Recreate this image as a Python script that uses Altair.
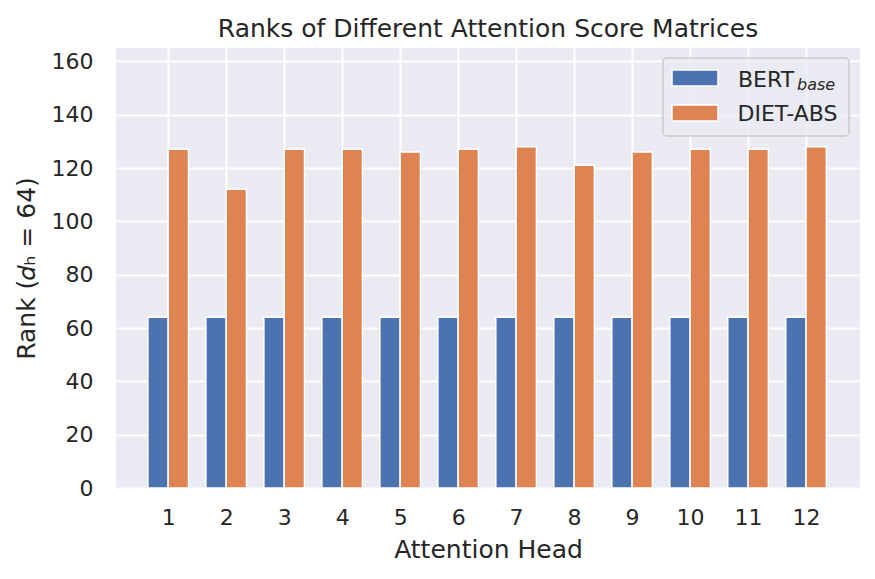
import altair as alt
import pandas as pd

heads = list(range(1, 13))
bert_ranks = [64, 64, 64, 64, 64, 64, 64, 64, 64, 64, 64, 64]
diet_ranks = [127, 112, 127, 127, 126, 127, 128, 121, 126, 127, 127, 128]
series_names = ["BERT_base", "DIET-ABS"]
colors = ["#4C72B0", "#DD8452"]
chart_title = "Ranks of Different Attention Score Matrices"
bar_w = 0.35

rows = []
for h, b, d in zip(heads, bert_ranks, diet_ranks):
    rows.append({"head": h, "x0": h - bar_w, "x1": h, "rank": b, "series": series_names[0]})
    rows.append({"head": h, "x0": h, "x1": h + bar_w, "rank": d, "series": series_names[1]})
df = pd.DataFrame(rows)

FONT = "DejaVu Sans"
TXT = "#262626"

bars = alt.Chart(df).mark_rect(stroke="white", strokeWidth=1.5).encode(
    x=alt.X("x0:Q", scale=alt.Scale(domain=[0.1, 12.93], nice=False, zero=False),
            axis=alt.Axis(values=heads, format="d", title="Attention Head", grid=True,
                          titleX=372, titleY=69.5, titleBaseline="alphabetic",
                          labelPadding=19)),
    x2="x1:Q",
    y=alt.Y("rank:Q", scale=alt.Scale(domain=[0, 165], nice=False),
            axis=alt.Axis(values=list(range(0, 161, 20)), title="Rank (𝑑ₕ = 64)",
                          titleX=-90, titleY=220, titleBaseline="middle", titleAngle=270,
                          labelPadding=23)),
    y2=alt.datum(0),
    color=alt.Color("series:N", scale=alt.Scale(domain=series_names, range=colors), legend=None),
)

one = pd.DataFrame({"k": [0]})

title_text = alt.Chart(one).mark_text(align="center", baseline="alphabetic", font=FONT,
                                      fontSize=25, color=TXT).encode(
    x=alt.value(372), y=alt.value(-11.5), text=alt.value(chart_title))

legend_box = alt.Chart(one).mark_rect(fill="#EAEAF2", fillOpacity=0.8, stroke="#CCCCCC",
                                      strokeWidth=1.5, cornerRadius=4).encode(
    x=alt.value(547), x2=alt.value(733), y=alt.value(10), y2=alt.value(88))

patch1 = alt.Chart(one).mark_rect(fill=colors[0], stroke="white", strokeWidth=1.5).encode(
    x=alt.value(556), x2=alt.value(602), y=alt.value(22), y2=alt.value(38))
patch2 = alt.Chart(one).mark_rect(fill=colors[1], stroke="white", strokeWidth=1.5).encode(
    x=alt.value(556), x2=alt.value(602), y=alt.value(57), y2=alt.value(73))

lab1 = alt.Chart(one).mark_text(align="left", baseline="alphabetic", font=FONT, fontSize=22,
                                color=TXT).encode(
    x=alt.value(622), y=alt.value(38.5), text=alt.value("BERT"))
lab1sub = alt.Chart(one).mark_text(align="left", baseline="alphabetic", font=FONT, fontSize=16,
                                   fontStyle="italic", color=TXT).encode(
    x=alt.value(681), y=alt.value(42), text=alt.value("base"))
lab2 = alt.Chart(one).mark_text(align="left", baseline="alphabetic", font=FONT, fontSize=22,
                                color=TXT).encode(
    x=alt.value(621.5), y=alt.value(72.5), text=alt.value(series_names[1]))

chart = alt.layer(bars, title_text, legend_box, patch1, patch2, lab1, lab1sub, lab2).properties(
    width=744, height=440,
    autosize=alt.AutoSizeParams(type="none"),
    padding={"left": 108, "top": 40, "right": 7, "bottom": 83},
).configure_view(fill="#EAEAF2", stroke=None).configure_axis(
    domain=False, ticks=False, gridColor="white", gridWidth=2,
    labelFont=FONT, labelFontSize=22, labelColor=TXT,
    titleFont=FONT, titleFontSize=25, titleColor=TXT, titleFontWeight="normal",
)

chart.save("out.html", embed_options={"renderer": "svg", "actions": False})
